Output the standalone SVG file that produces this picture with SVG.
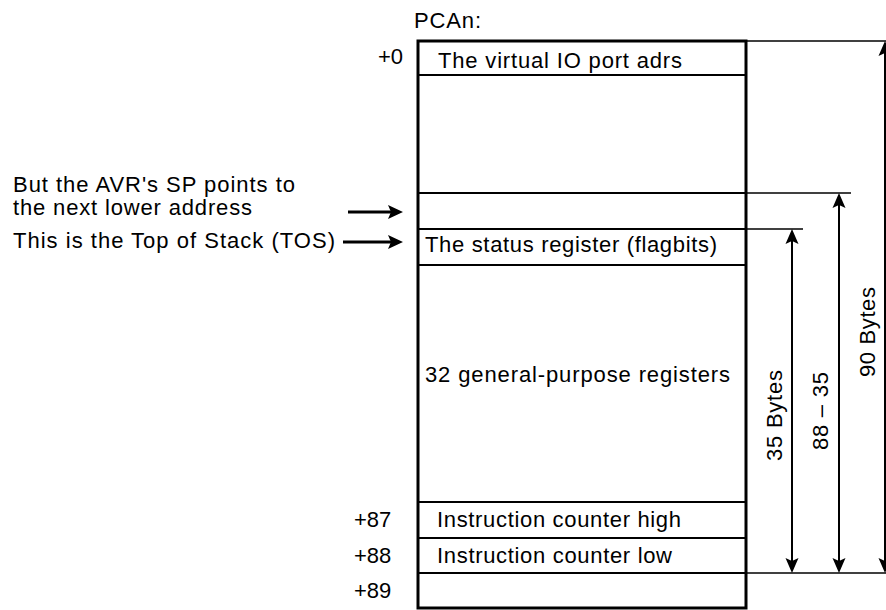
<svg xmlns="http://www.w3.org/2000/svg" width="886" height="610" viewBox="0 0 886 610">
<style>
text{font-family:"Liberation Sans",Arial,sans-serif;font-size:22px;fill:#000}
.box{fill:#fff;stroke:#000;stroke-width:3}
.row{stroke:#000;stroke-width:2;fill:none}
.ext{stroke:#000;stroke-width:1.5;fill:none}
.dim{stroke:#000;stroke-width:2;fill:none}
.ptr{stroke:#000;stroke-width:3;fill:none}
</style>
<defs>
<path id="ahUp" d="M0,0 L6.5,15 L0,12 L-6.5,15 Z" fill="#000"/>
<path id="ahRight" d="M0,0 L-15,-7 L-12,0 L-15,7 Z" fill="#000"/>
</defs>
<g id="title"><text x="414" y="28" textLength="67" lengthAdjust="spacing">PCAn:</text></g>
<g id="frame">
<rect class="box" x="418" y="41" width="328" height="567"/>
<line class="row" x1="418" y1="75" x2="746" y2="75"/>
<line class="row" x1="418" y1="193" x2="746" y2="193"/>
<line class="row" x1="418" y1="229" x2="746" y2="229"/>
<line class="row" x1="418" y1="265" x2="746" y2="265"/>
<line class="row" x1="418" y1="502" x2="746" y2="502"/>
<line class="row" x1="418" y1="538" x2="746" y2="538"/>
<line class="row" x1="418" y1="573" x2="746" y2="573"/>
</g>
<g id="row-io"><text x="438" y="68" textLength="244" lengthAdjust="spacing">The virtual IO port adrs</text></g>
<g id="row-status"><text x="425" y="252" textLength="292" lengthAdjust="spacing">The status register (flagbits)</text></g>
<g id="row-regs"><text x="425" y="382" textLength="305" lengthAdjust="spacing">32 general-purpose registers</text></g>
<g id="row-ich"><text x="437" y="527" textLength="244" lengthAdjust="spacing">Instruction counter high</text></g>
<g id="row-icl"><text x="437" y="563" textLength="235" lengthAdjust="spacing">Instruction counter low</text></g>
<g id="offsets">
<text x="378" y="64">+0</text>
<text x="354" y="527">+87</text>
<text x="354" y="563">+88</text>
<text x="354" y="598">+89</text>
</g>
<g id="note-sp">
<text x="13" y="192" textLength="282" lengthAdjust="spacing">But the AVR's SP points to</text>
<text x="13" y="215" textLength="239" lengthAdjust="spacing">the next lower address</text>
</g>
<g id="note-tos"><text x="13" y="248" textLength="322" lengthAdjust="spacing">This is the Top of Stack (TOS)</text></g>
<g id="connectors">
<line class="ptr" x1="348" y1="212" x2="392" y2="212"/>
<use href="#ahRight" x="403" y="212"/>
<line class="ptr" x1="343" y1="242" x2="392" y2="242"/>
<use href="#ahRight" x="403" y="242"/>
<line class="ext" x1="746" y1="41" x2="886" y2="41"/>
<line class="ext" x1="746" y1="193" x2="851" y2="193"/>
<line class="ext" x1="746" y1="229" x2="803" y2="229"/>
<line class="ext" x1="746" y1="573" x2="886" y2="573"/>
<line class="dim" x1="792" y1="235" x2="792" y2="567"/>
<use href="#ahUp" x="792" y="229"/>
<use href="#ahUp" transform="translate(792,573) rotate(180)"/>
<line class="dim" x1="839" y1="199" x2="839" y2="567"/>
<use href="#ahUp" x="839" y="193"/>
<use href="#ahUp" transform="translate(839,573) rotate(180)"/>
<line class="dim" x1="885" y1="47" x2="885" y2="567"/>
<use href="#ahUp" x="885" y="41"/>
<use href="#ahUp" transform="translate(885,573) rotate(180)"/>
</g>
<g id="dim-labels">
<text transform="translate(782,461) rotate(-90)" textLength="91" lengthAdjust="spacing">35 Bytes</text>
<text transform="translate(828,450) rotate(-90)" textLength="78" lengthAdjust="spacing">88 – 35</text>
<text transform="translate(875,377) rotate(-90)" textLength="90" lengthAdjust="spacing">90 Bytes</text>
</g>
</svg>
